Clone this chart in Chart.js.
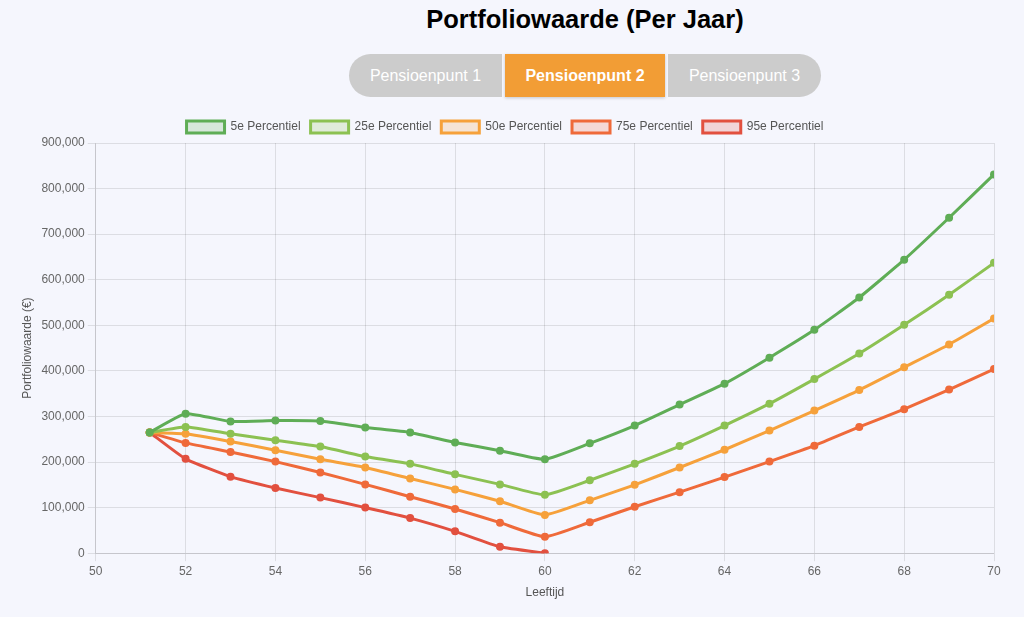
<!DOCTYPE html>
<html>
<head>
<meta charset="utf-8">
<script src="https://cdn.jsdelivr.net/npm/chart.js@4"></script>
<style>
  body {
    margin: 0;
    background: #f5f6fd;
    font-family: "Liberation Sans", Arial, sans-serif;
  }
  h1 {
    margin: 0;
    padding-top: 5px;
    height: 40px;
    text-align: center;
    font-size: 25.5px;
    font-weight: bold;
    color: #000;
    position: relative;
    left: 73px;
  }
  .tabs {
    position: absolute;
    left: 349px;
    top: 54px;
    display: flex;
    gap: 3px;
  }
  .tabs button {
    border: none;
    height: 43px;
    font-family: "Liberation Sans", Arial, sans-serif;
    font-size: 16px;
    color: #fff;
    background: #cccccc;
    padding: 0;
  }
  .tabs .first { width: 153px; border-radius: 22px 0 0 22px; }
  .tabs .mid { width: 160px; background: #f29d35; font-weight: bold; box-shadow: 0 1px 3px rgba(0,0,0,0.2); }
  .tabs .last { width: 153px; border-radius: 0 22px 22px 0; }
  .chart-wrap {
    position: absolute;
    left: 0;
    top: 111px;
    width: 1024px;
    height: 493px;
  }
</style>
</head>
<body>
<h1>Portfoliowaarde (Per Jaar)</h1>
<div class="tabs">
  <button class="first">Pensioenpunt 1</button>
  <button class="mid">Pensioenpunt 2</button>
  <button class="last">Pensioenpunt 3</button>
</div>
<div class="chart-wrap"><canvas id="portfolio-chart"></canvas></div>

<script>
// ========== Data ==========
const ages = [51.2, 52, 53, 54, 55, 56, 57, 58, 59, 60, 61, 62, 63, 64, 65, 66, 67, 68, 69, 70];

const p5 = [265000, 306000, 289000, 291000, 290000, 276000, 265000, 243000, 225000, 206000,
  241000, 280000, 326000, 372000, 429000, 490000, 561000, 644000, 736000, 831000];
const p25 = [265000, 277000, 262000, 248000, 234000, 212000, 196000, 173000, 151000, 128000,
  160000, 196000, 235000, 280000, 328000, 382000, 438000, 501000, 567000, 637000];
const p50 = [265000, 262000, 245000, 226000, 206000, 188000, 164000, 140000, 114000, 84000,
  116000, 150000, 188000, 227000, 269000, 313000, 358000, 408000, 458000, 515000];
const p75 = [265000, 242000, 222000, 201000, 177000, 151000, 124000, 97000, 67000, 36000,
  68000, 102000, 134000, 167000, 201000, 236000, 277000, 316000, 359000, 404000];
const p95 = [265000, 207000, 168000, 143000, 122000, 100000, 77000, 48000, 14000, 0];

const seriesLabels = ['5e Percentiel', '25e Percentiel', '50e Percentiel', '75e Percentiel', '95e Percentiel'];
const seriesColors = ['#5fad56', '#8cc152', '#f6a13b', '#ef6a3a', '#e2503f'];
const seriesFills = ['rgba(95,173,86,0.2)', 'rgba(140,193,82,0.2)', 'rgba(246,161,59,0.2)', 'rgba(239,106,58,0.2)', 'rgba(226,80,63,0.2)'];
const seriesValues = [p5, p25, p50, p75, p95];

// ========== Chart ==========
function buildDatasets() {
  return seriesValues.map((values, i) => ({
    label: seriesLabels[i],
    data: values.map((v, j) => ({ x: ages[j], y: v })),
    borderColor: seriesColors[i],
    backgroundColor: seriesFills[i],
    pointBackgroundColor: seriesColors[i],
    borderWidth: 3,
    pointRadius: 2.5,
    tension: 0.15
  }));
}

document.addEventListener('DOMContentLoaded', () => {
  const ctx = document.getElementById('portfolio-chart').getContext('2d');
  const font = { family: 'Liberation Sans', size: 12 };
  new Chart(ctx, {
    type: 'line',
    data: { datasets: buildDatasets() },
    options: {
      responsive: true,
      maintainAspectRatio: false,
      animation: false,
      layout: { padding: { left: 16, right: 30 } },
      plugins: {
        legend: {
          labels: {
            color: '#555',
            font: font,
            boxWidth: 38,
            boxHeight: 12
          }
        }
      },
      scales: {
        x: {
          type: 'linear',
          min: 50,
          max: 70,
          ticks: { stepSize: 2, color: '#666', font: font },
          title: { display: true, text: 'Leeftijd', color: '#555', font: font }
        },
        y: {
          min: 0,
          max: 900000,
          ticks: {
            stepSize: 100000,
            color: '#666',
            font: font,
            callback: v => v.toLocaleString('en-US')
          },
          title: { display: true, text: 'Portfoliowaarde (€)', color: '#555', font: font }
        }
      }
    }
  });
});
</script>
</body>
</html>
